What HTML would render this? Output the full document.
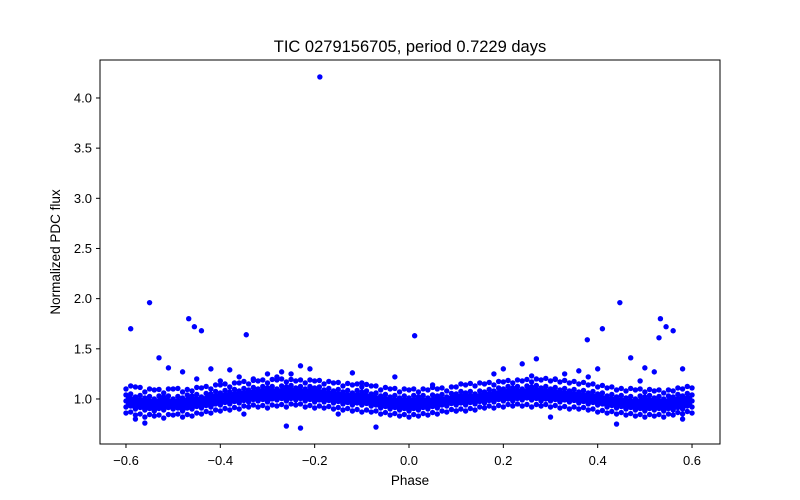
<!DOCTYPE html>
<html><head><meta charset="utf-8"><style>
body{margin:0;background:#fff;}
svg{display:block;font-family:"Liberation Sans","DejaVu Sans",sans-serif;}
</style></head><body>
<svg id="chart" width="800" height="500">
<rect x="0" y="0" width="800" height="500" fill="#fff"/>
<text x="410" y="52" font-size="16.5" text-anchor="middle">TIC 0279156705, period 0.7229 days</text>
<g id="marks"></g>
<rect x="100" y="60" width="620" height="384" fill="none" stroke="#000" stroke-width="1"/>
<g id="xticks"></g>
<g id="yticks"></g>
<text x="410" y="485" font-size="13.5" text-anchor="middle">Phase</text>
<text x="60" y="252" font-size="13.5" text-anchor="middle" transform="rotate(-90 60 252)">Normalized PDC flux</text>
</svg>
<script>
const phases=[-0.60,-0.58,-0.56,-0.54,-0.52,-0.50,-0.48,-0.46,-0.44,-0.42,-0.40,-0.38,-0.36,-0.34,-0.32,-0.30,-0.28,-0.26,-0.24,-0.22,-0.20,-0.18,-0.16,-0.14,-0.12,-0.10,-0.08,-0.06,-0.04,-0.02,0.00,0.02,0.04,0.06,0.08,0.10,0.12,0.14,0.16,0.18,0.20,0.22,0.24,0.26,0.28,0.30,0.32,0.34,0.36,0.38,0.40,0.42,0.44,0.46,0.48,0.50,0.52,0.54,0.56,0.58,0.60];
const fluxA=[1.10,1.12,1.07,1.09,1.06,1.10,1.07,1.08,1.11,1.10,1.14,1.12,1.16,1.15,1.18,1.16,1.19,1.17,1.18,1.16,1.18,1.15,1.16,1.13,1.14,1.12,1.13,1.09,1.10,1.07,1.09,1.07,1.09,1.10,1.08,1.12,1.14,1.13,1.15,1.14,1.17,1.16,1.18,1.17,1.19,1.18,1.17,1.16,1.15,1.14,1.12,1.11,1.09,1.08,1.09,1.07,1.08,1.06,1.08,1.10,1.11];
const fluxB=[1.04,1.02,1.01,1.00,1.02,1.00,1.01,1.03,1.02,1.05,1.06,1.07,1.08,1.09,1.10,1.11,1.10,1.12,1.11,1.10,1.11,1.09,1.08,1.07,1.06,1.07,1.05,1.03,1.02,1.01,1.01,1.02,1.01,1.03,1.02,1.05,1.06,1.05,1.07,1.08,1.10,1.11,1.10,1.12,1.11,1.10,1.09,1.08,1.07,1.06,1.05,1.03,1.02,1.01,1.00,1.02,1.01,1.00,1.02,1.03,1.04];
const fluxC=[0.98,0.96,0.95,0.95,0.94,0.96,0.95,0.96,0.97,0.98,1.00,1.01,1.02,1.03,1.04,1.04,1.05,1.05,1.05,1.04,1.04,1.03,1.02,1.01,1.00,1.00,0.99,0.97,0.96,0.95,0.95,0.95,0.96,0.97,0.99,1.00,1.00,1.01,1.02,1.03,1.04,1.04,1.05,1.05,1.05,1.04,1.04,1.03,1.02,1.01,1.00,0.98,0.97,0.96,0.95,0.95,0.95,0.95,0.95,0.96,0.98];
const fluxD=[0.92,0.90,0.89,0.88,0.89,0.90,0.88,0.90,0.91,0.92,0.94,0.95,0.96,0.97,0.98,0.97,0.99,0.98,0.99,0.98,0.97,0.97,0.96,0.95,0.94,0.94,0.93,0.91,0.90,0.89,0.88,0.89,0.90,0.91,0.93,0.94,0.94,0.95,0.96,0.97,0.98,0.98,0.99,0.99,0.98,0.98,0.97,0.97,0.96,0.95,0.94,0.92,0.91,0.90,0.89,0.88,0.89,0.88,0.89,0.90,0.92];
const fluxE=[0.86,0.84,0.82,0.83,0.81,0.84,0.82,0.83,0.85,0.86,0.88,0.89,0.90,0.92,0.92,0.91,0.93,0.92,0.94,0.92,0.91,0.91,0.90,0.89,0.88,0.87,0.87,0.85,0.84,0.83,0.82,0.83,0.84,0.85,0.87,0.88,0.88,0.89,0.91,0.91,0.92,0.93,0.93,0.92,0.93,0.92,0.91,0.90,0.90,0.89,0.87,0.86,0.85,0.84,0.83,0.82,0.83,0.82,0.84,0.85,0.86];
const outPhase=[-0.189,-0.59,-0.55,-0.467,-0.455,-0.44,-0.345,0.012,0.447,0.41,0.378,0.533,0.545,0.56,0.53,-0.53,-0.51,-0.48,-0.42,-0.38,-0.36,-0.30,-0.27,-0.25,-0.23,-0.21,-0.12,-0.03,0.18,0.24,0.27,0.33,0.36,0.47,0.50,0.52,0.58,-0.26,-0.23,-0.07,0.44,-0.56,0.40,0.20,-0.58,0.58,-0.15,0.10,0.30,-0.35,-0.33,-0.28,-0.40,0.31,0.38,0.26,-0.45,0.49,-0.10,0.05];
const outFlux=[4.21,1.70,1.96,1.80,1.72,1.68,1.64,1.63,1.96,1.70,1.59,1.80,1.72,1.68,1.61,1.41,1.31,1.27,1.30,1.29,1.22,1.25,1.27,1.25,1.33,1.30,1.26,1.22,1.25,1.35,1.40,1.25,1.28,1.41,1.31,1.27,1.30,0.73,0.71,0.72,0.75,0.76,1.30,1.30,0.80,0.80,0.85,0.88,0.82,0.85,1.20,1.22,1.18,1.20,1.22,1.23,1.20,1.18,1.16,1.14];
const xTicks=[-0.6,-0.4,-0.2,0.0,0.2,0.4,0.6];
const xTickLabels=["−0.6","−0.4","−0.2","0.0","0.2","0.4","0.6"];
const yTicks=[1.0,1.5,2.0,2.5,3.0,3.5,4.0];
const yTickLabels=["1.0","1.5","2.0","2.5","3.0","3.5","4.0"];

const NS="http://www.w3.org/2000/svg";
const xs=p=>409+p*471.7;
const ys=f=>499.3-f*100.33;
const marks=document.getElementById('marks');
// solid core of the dense band, between fluxB and fluxD
(function(){
  const n=Math.min(phases.length,fluxB.length,fluxD.length);
  let d='';
  for(let i=0;i<n;i++) d+=(i?'L':'M')+xs(phases[i])+' '+ys(fluxB[i]);
  for(let i=n-1;i>=0;i--) d+='L'+xs(phases[i])+' '+ys(fluxD[i]);
  d+='Z';
  const p=document.createElementNS(NS,'path');
  p.setAttribute('d',d);p.setAttribute('fill','#0000ff');
  
  
  marks.appendChild(p);
})();
function dot(p,f,name){
  const c=document.createElementNS(NS,'circle');
  c.setAttribute('cx',xs(p));c.setAttribute('cy',ys(f));c.setAttribute('r',2.7);c.setAttribute('fill','#0000ff');
  
  
  marks.appendChild(c);
}
[fluxA,fluxB,fluxC,fluxD,fluxE].forEach(row=>{
  const n=Math.min(row.length,phases.length);
  for(let i=0;i<n;i++){
    dot(phases[i],row[i],'data-point');
    if(i<n-1){
      dot((phases[i]+phases[i+1])/2,(row[i]+row[i+1])/2+0.02,'data-point');
    }
  }
});
for(let i=0;i<Math.min(outPhase.length,outFlux.length);i++) dot(outPhase[i],outFlux[i],'outlier-point');

const xg=document.getElementById('xticks');
xTicks.forEach((t,i)=>{
  const l=document.createElementNS(NS,'line');
  l.setAttribute('x1',xs(t));l.setAttribute('x2',xs(t));l.setAttribute('y1',444);l.setAttribute('y2',448);l.setAttribute('stroke','#000');
  
  
  xg.appendChild(l);
  const tx=document.createElementNS(NS,'text');
  tx.setAttribute('x',xs(t));tx.setAttribute('y',465);tx.setAttribute('font-size','13');tx.setAttribute('text-anchor','middle');
  tx.textContent=xTickLabels[i];
  
  
  xg.appendChild(tx);
});
const yg=document.getElementById('yticks');
yTicks.forEach((t,i)=>{
  const l=document.createElementNS(NS,'line');
  l.setAttribute('x1',96);l.setAttribute('x2',100);l.setAttribute('y1',ys(t));l.setAttribute('y2',ys(t));l.setAttribute('stroke','#000');
  
  
  yg.appendChild(l);
  const tx=document.createElementNS(NS,'text');
  tx.setAttribute('x',92);tx.setAttribute('y',ys(t)+4.5);tx.setAttribute('font-size','13');tx.setAttribute('text-anchor','end');
  tx.textContent=yTickLabels[i];
  
  
  yg.appendChild(tx);
});
</script>
</body></html>
